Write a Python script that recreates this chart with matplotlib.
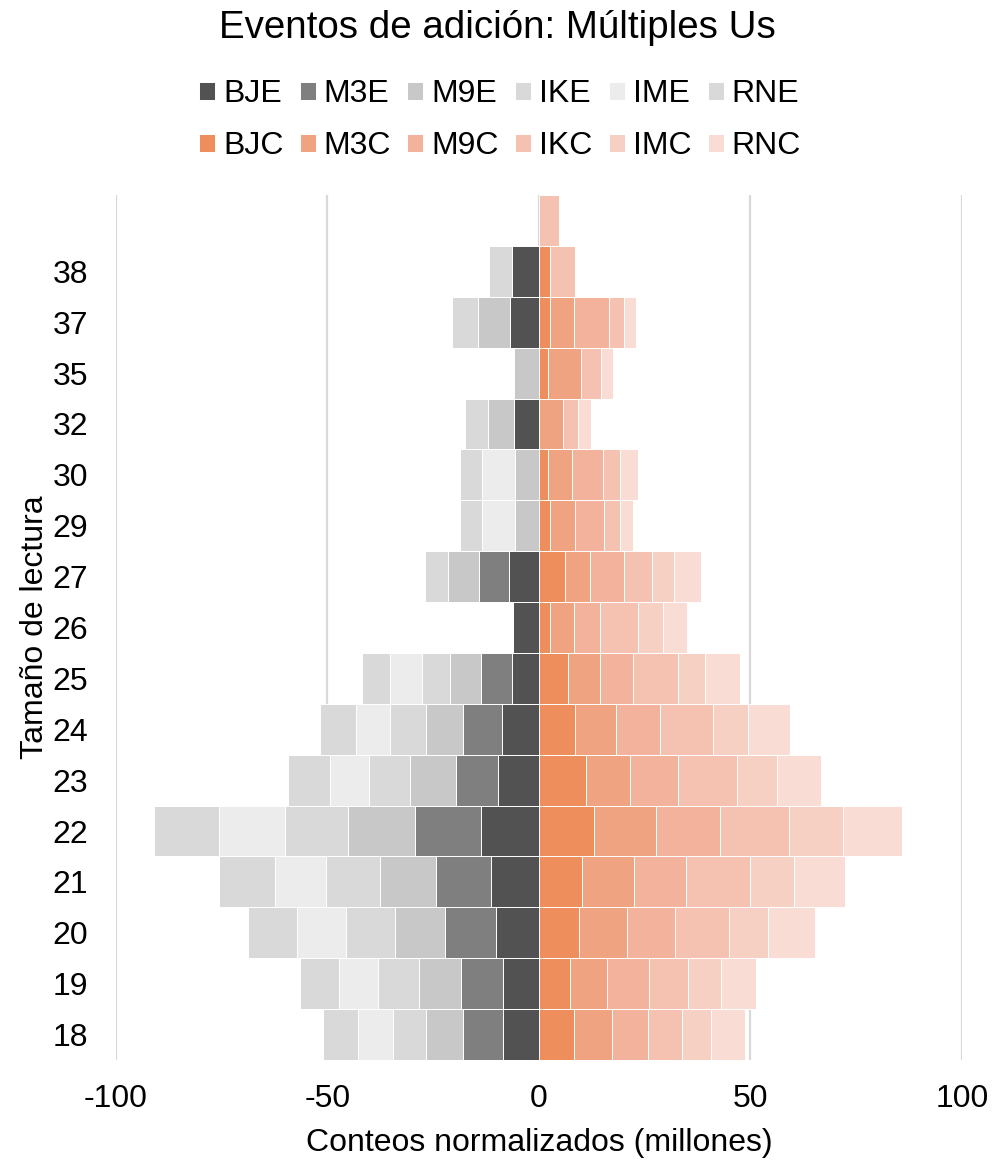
import numpy as np
import matplotlib
matplotlib.use("Agg")
import matplotlib.pyplot as plt

plt.rcParams['font.family'] = ['Liberation Sans', 'DejaVu Sans']

# Read-length categories, bottom to top (the topmost row carries no label)
categories = ["18", "19", "20", "21", "22", "23", "24", "25", "26", "27",
              "29", "30", "32", "35", "37", "38", ""]

# Left side (E series), stacked outward from zero
BJE = [8.6, 8.6, 10.2, 11.4, 13.8, 9.8, 8.7, 6.45, 6.1, 7.1, 0, 0, 6.0, 0, 6.8, 6.45, 0]
M3E = [9.3, 9.9, 12.0, 12.9, 15.5, 9.8, 9.2, 7.2, 0, 7.2, 0, 0, 0, 0, 0, 0, 0]
M9E = [8.7, 9.85, 11.9, 13.3, 15.8, 10.8, 8.9, 7.3, 0, 7.2, 5.7, 5.7, 6.1, 5.8, 7.7, 0, 0]
IKE = [8.0, 9.7, 11.5, 12.7, 14.9, 9.85, 8.35, 6.6, 0, 5.4, 0, 0, 5.3, 0, 6.0, 0, 0]
IME = [8.1, 9.3, 11.6, 12.1, 15.6, 9.1, 8.0, 7.6, 0, 0, 7.7, 7.7, 0, 0, 0, 0, 0]
RNE = [8.35, 9.2, 11.7, 13.2, 15.4, 9.9, 8.7, 6.8, 0, 0, 5.2, 5.2, 0, 0, 0, 5.4, 0]

# Right side (C series)
BJC = [8.35, 7.4, 9.5, 10.2, 13.1, 11.2, 8.6, 6.9, 2.7, 6.2, 2.7, 2.2, 0, 2.05, 2.6, 2.6, 0]
M3C = [9.0, 8.7, 11.3, 12.3, 14.65, 10.2, 9.7, 7.5, 5.5, 5.9, 5.8, 5.7, 5.75, 7.9, 5.6, 0, 0]
M9C = [8.5, 9.9, 11.3, 12.2, 15.1, 11.5, 10.3, 7.9, 6.3, 7.95, 6.85, 7.25, 0, 0, 8.4, 0, 0]
IKC = [7.95, 9.2, 12.7, 15.1, 16.3, 13.9, 12.5, 10.5, 9.0, 6.6, 3.9, 4.0, 3.5, 4.7, 3.5, 5.9, 4.7]
IMC = [6.85, 7.8, 9.45, 10.6, 12.7, 9.45, 8.3, 6.45, 5.8, 5.2, 0, 0, 0, 0, 0, 0, 0]
RNC = [7.95, 8.3, 11.0, 11.9, 13.9, 10.3, 9.85, 8.35, 5.7, 6.4, 3.0, 4.2, 3.0, 2.9, 2.9, 0, 0]

e_series = [("BJE", BJE), ("M3E", M3E), ("M9E", M9E),
            ("IKE", IKE), ("IME", IME), ("RNE", RNE)]
c_series = [("BJC", BJC), ("M3C", M3C), ("M9C", M9C),
            ("IKC", IKC), ("IMC", IMC), ("RNC", RNC)]

e_colors = ["#525252", "#7f7f7f", "#c8c8c8", "#d9d9d9", "#ececec", "#d9d9d9"]
c_colors = ["#ed8e5c", "#f0a381", "#f2b29b", "#f5c2b2", "#f7d0c4", "#f9ddd5"]

xticks = [-100, -50, 0, 50, 100]

FS = 23
W, H = 995, 1163
fig = plt.figure(figsize=(W / 100, H / 100), dpi=100)
ax = fig.add_axes([116 / W, 1 - 1060 / H, (962 - 116) / W, (1060 - 195) / H])

y = np.arange(len(categories))


def stack(series, colors, sign):
    handles = []
    cum = np.zeros(len(categories))
    for (name, vals), col in zip(series, colors):
        v = np.asarray(vals, dtype=float)
        m = v > 0
        bars = ax.barh(y[m], sign * v[m], left=sign * cum[m], height=1.0,
                       color=col, edgecolor="white", linewidth=0.7,
                       label=name, zorder=2)
        handles.append(bars)
        cum += v
    return handles


h_e = stack(e_series, e_colors, -1)
h_c = stack(c_series, c_colors, 1)

ax.set_xlim(-100, 100)
ax.set_ylim(-0.5, len(categories) - 0.5)
ax.set_xticks(xticks)
ax.set_xticklabels([str(t) for t in xticks])
ax.set_yticks(y)
ax.set_yticklabels(categories)
ax.tick_params(axis="both", length=0, labelsize=FS, colors="black")
ax.tick_params(axis="y", pad=20)
ax.tick_params(axis="x", pad=17)
for s in ax.spines.values():
    s.set_visible(False)
ax.xaxis.grid(True, color="#d9d9d9", linewidth=1.6, zorder=0)
ax.set_axisbelow(True)

ax.set_xlabel("Conteos normalizados (millones)", fontsize=FS, labelpad=10)
ax.set_ylabel("Tamaño de lectura", fontsize=FS, labelpad=2)

fig.suptitle("Eventos de adición: Múltiples Us", fontsize=27.7, y=1 - 10 / H,
             va="top")

# Legend: E entries on the first row, C entries on the second
handles, labels = [], []
for he, hc, (ne, _), (nc, _) in zip(h_e, h_c, e_series, c_series):
    handles += [he, hc]
    labels += [ne, nc]
fig.legend(handles, labels, ncol=6, loc="upper center",
           bbox_to_anchor=(0.5025, 1 - 79 / H), frameon=False, fontsize=FS,
           handlelength=0.5, handleheight=0.5, handletextpad=0.26,
           columnspacing=0.5, labelspacing=0.69, borderpad=0,
           borderaxespad=0)

fig.savefig("out.png", dpi=100)
